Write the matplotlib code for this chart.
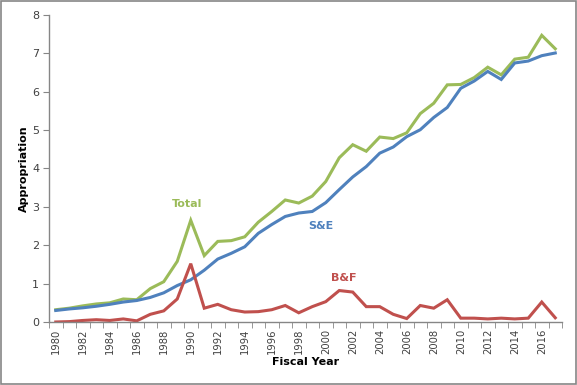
import matplotlib
matplotlib.use("Agg")
import matplotlib.pyplot as plt
import numpy as np

years = list(range(1980, 2018))
total = [0.32, 0.36, 0.42, 0.47, 0.50, 0.60, 0.58, 0.87, 1.05, 1.58, 2.65, 1.73, 2.10, 2.12,
         2.22, 2.60, 2.88, 3.18, 3.10, 3.28, 3.66, 4.28, 4.62, 4.45, 4.82, 4.78, 4.93, 5.43,
         5.70, 6.18, 6.19, 6.37, 6.64, 6.44, 6.85, 6.90, 7.47, 7.12]
se = [0.30, 0.34, 0.37, 0.41, 0.46, 0.52, 0.56, 0.64, 0.76, 0.95, 1.10, 1.35, 1.64, 1.79,
      1.96, 2.31, 2.54, 2.75, 2.84, 2.88, 3.11, 3.45, 3.78, 4.05, 4.40, 4.56, 4.83, 5.01,
      5.33, 5.59, 6.09, 6.28, 6.53, 6.32, 6.75, 6.80, 6.94, 7.01]
bf = [0.00, 0.01, 0.04, 0.06, 0.04, 0.08, 0.03, 0.20, 0.29, 0.60, 1.52, 0.36, 0.46, 0.32,
      0.26, 0.27, 0.32, 0.43, 0.24, 0.40, 0.53, 0.82, 0.78, 0.40, 0.40, 0.20, 0.09, 0.43,
      0.36, 0.58, 0.10, 0.10, 0.08, 0.10, 0.08, 0.10, 0.52, 0.11]
tick_labels = [str(y) for y in range(1980, 2018, 2)]
yticks = [0, 1, 2, 3, 4, 5, 6, 7, 8]

c_total = "#9BBB59"
c_se = "#4F81BD"
c_bf = "#C0504D"
gray = "#868686"
txt = "#404040"

fig = plt.figure(figsize=(5.77, 3.85), dpi=100)
fig.patches.append(plt.Rectangle((0.002, 0.003), 0.996, 0.994, transform=fig.transFigure,
                                 fill=False, edgecolor=gray, linewidth=1.2))
ax = fig.add_axes([49/577, 1-322/385, (562-49)/577, (322-15)/385])

ax.plot(years, total, color=c_total, lw=2.2, solid_joinstyle="miter")
ax.plot(years, se, color=c_se, lw=2.2, solid_joinstyle="miter")
ax.plot(years, bf, color=c_bf, lw=2.2, solid_joinstyle="miter")

ax.set_xlim(1979.5, 2017.5)
ax.set_ylim(0, 8)
ax.set_yticks(yticks)
ax.set_yticklabels([str(v) for v in yticks], fontsize=8, color=txt)
ax.set_xticks(list(range(1980, 2018, 2)))
ax.set_xticklabels(tick_labels, rotation=90, fontsize=7.2, color=txt)
ax.set_xticks(np.arange(1979.5, 2018, 1), minor=True)
ax.tick_params(axis="x", which="major", length=0, pad=5)
ax.tick_params(axis="x", which="minor", length=4, color=gray, direction="out")
ax.tick_params(axis="y", length=4, color=gray, direction="out", pad=3)

for s in ["top", "right"]:
    ax.spines[s].set_visible(False)
for s in ["left", "bottom"]:
    ax.spines[s].set_color(gray)
    ax.spines[s].set_linewidth(1.0)

ax.set_ylabel("Appropriation", fontsize=8, fontweight="bold", labelpad=2)
ax.set_xlabel("Fiscal Year", fontsize=8, fontweight="bold", labelpad=2)

ax.text(1989.7, 3.07, "Total", color=c_total, fontsize=8, fontweight="bold", ha="center", va="center")
ax.text(1999.65, 2.5, "S&E", color=c_se, fontsize=8, fontweight="bold", ha="center", va="center")
ax.text(2001.3, 1.15, "B&F", color=c_bf, fontsize=8, fontweight="bold", ha="center", va="center")

fig.savefig("out.png", dpi=100)
